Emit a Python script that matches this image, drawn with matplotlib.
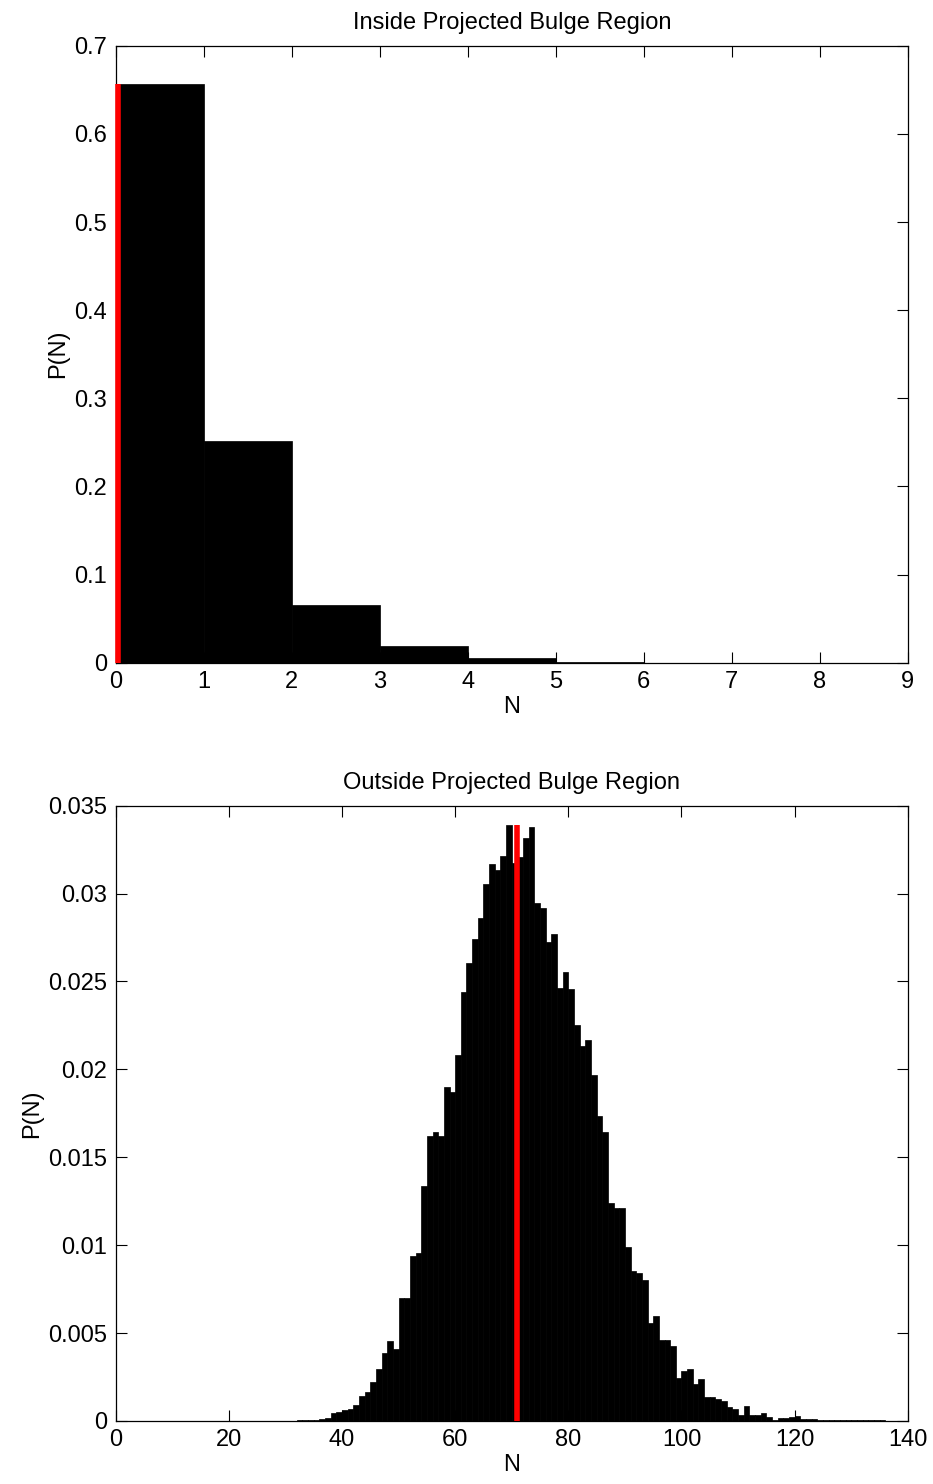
import numpy as np
import matplotlib
matplotlib.use("Agg")
import matplotlib.pyplot as plt
from matplotlib.ticker import FuncFormatter

plt.rcParams['font.family'] = ['Liberation Sans', 'DejaVu Sans']

# haut : à l'intérieur du bulbe projeté
inside_edges = [0, 1, 2, 3, 4, 5, 6, 7, 8]
inside_p = [0.6565, 0.2520, 0.0655, 0.0190, 0.0055, 0.0012, 0.0002, 0.00003, 0.0]
inside_mean = 0.025

# bas : à l'extérieur du bulbe projeté (bins de largeur 1, bord gauche 30..135)
outside_edges = list(range(30, 136))
outside_p = [
    0.00002, 0.00002, 0.00003, 0.00004, 0.00005, 0.00008, 0.00012, 0.00018, 0.00045, 0.00052,  # 30-39
    0.00062, 0.00070, 0.00090, 0.00144, 0.00167, 0.00224, 0.00294, 0.00389, 0.00455, 0.00410,  # 40-49
    0.00698, 0.00698, 0.00937, 0.00956, 0.01337, 0.01623, 0.01642, 0.01621, 0.01902, 0.01873,  # 50-59
    0.02082, 0.02438, 0.02607, 0.02742, 0.02863, 0.03056, 0.03168, 0.03132, 0.03214, 0.03390,  # 60-69
    0.03176, 0.03210, 0.03314, 0.03377, 0.02948, 0.02920, 0.02723, 0.02768, 0.02461, 0.02556,  # 70-79
    0.02456, 0.02251, 0.02133, 0.02169, 0.01966, 0.01733, 0.01642, 0.01238, 0.01210, 0.01210,  # 80-89
    0.00992, 0.00853, 0.00840, 0.00802, 0.00559, 0.00599, 0.00461, 0.00461, 0.00427, 0.00243,  # 90-99
    0.00286, 0.00294, 0.00210, 0.00241, 0.00135, 0.00138, 0.00125, 0.00114, 0.00078, 0.00070,  # 100-109
    0.00036, 0.00084, 0.00034, 0.00034, 0.00044, 0.00025, 0.00008, 0.00015, 0.00015, 0.00020,  # 110-119
    0.00030, 0.00010, 0.00010, 0.00010, 0.00007, 0.00006, 0.00006, 0.00005, 0.00005, 0.00005,  # 120-129
    0.00004, 0.00004, 0.00004, 0.00003, 0.00003, 0.00003,  # 130-135
]
outside_mean = 70.9

FS = 17

fig = plt.figure(figsize=(9.33, 14.84), dpi=100)
ax1 = fig.add_axes([0.124, 0.5534, 0.849, 0.4158])
ax2 = fig.add_axes([0.124, 0.0425, 0.849, 0.4146])


def style(ax):
    ax.tick_params(direction='in', top=True, right=True, length=8, width=0.8,
                   labelsize=FS, pad=6)
    for s in ax.spines.values():
        s.set_linewidth(0.9)
    ax.yaxis.set_major_formatter(FuncFormatter(lambda v, p: '%g' % round(v, 6)))
    ax.xaxis.set_major_formatter(FuncFormatter(lambda v, p: '%g' % v))


ax1.bar(inside_edges, inside_p, width=1, align='edge', color='black',
        edgecolor='black', linewidth=0.5)
ax1.plot([inside_mean, inside_mean], [0, max(inside_p)], color='red', lw=4,
         solid_capstyle='butt', clip_on=False, zorder=5)
ax1.set_xlim(0, 9)
ax1.set_ylim(0, 0.7)
ax1.set_xticks(np.arange(0, 10, 1))
ax1.set_yticks(np.arange(0, 0.71, 0.1))
style(ax1)
ax1.set_title('Inside Projected Bulge Region', fontsize=FS, pad=12)
ax1.set_xlabel('N', fontsize=FS, labelpad=2)
ax1.set_ylabel('P(N)', fontsize=FS, labelpad=4)

ax2.bar(outside_edges, outside_p, width=1, align='edge', color='black',
        edgecolor='black', linewidth=0.5)
ax2.plot([outside_mean, outside_mean], [0, max(outside_p)], color='red', lw=4,
         solid_capstyle='butt', zorder=5)
ax2.set_xlim(0, 140)
ax2.set_ylim(0, 0.035)
ax2.set_xticks(np.arange(0, 141, 20))
ax2.set_yticks(np.arange(0, 0.0351, 0.005))
style(ax2)
ax2.set_title('Outside Projected Bulge Region', fontsize=FS, pad=12)
ax2.set_xlabel('N', fontsize=FS, labelpad=2)
ax2.set_ylabel('P(N)', fontsize=FS, labelpad=4)

fig.savefig('out.png', dpi=100)
